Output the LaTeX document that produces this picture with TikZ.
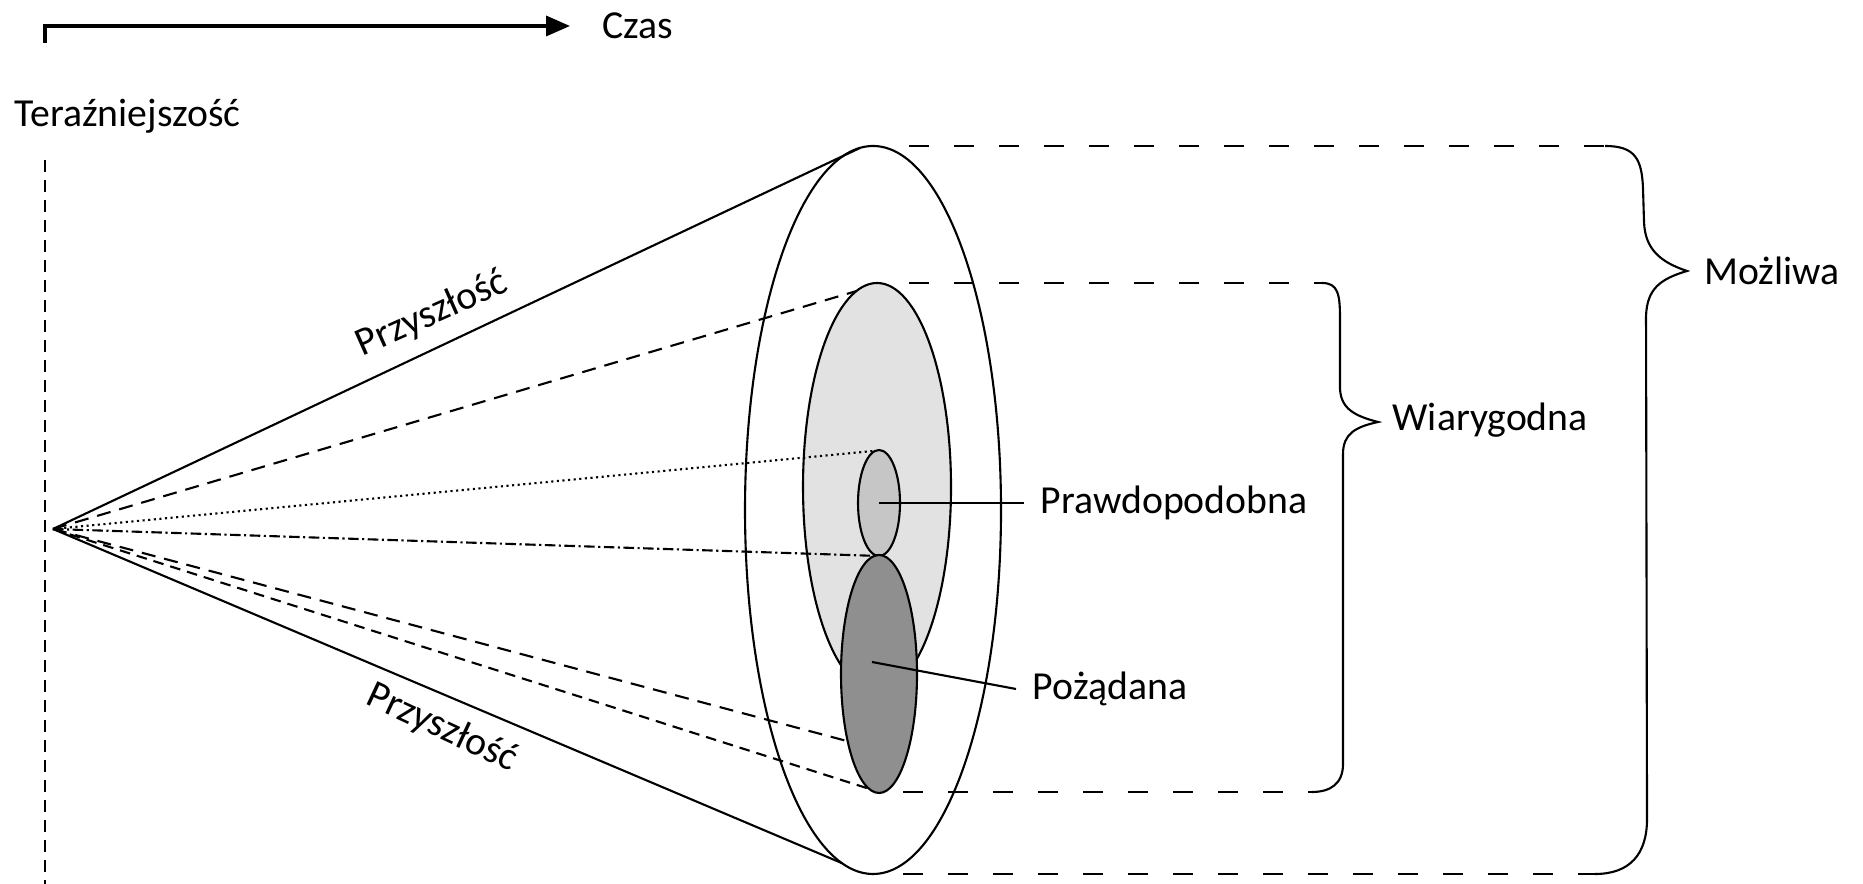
\documentclass[tikz,border=0pt]{standalone}
\usepackage{fontspec}
\setmainfont{Carlito}
\usetikzlibrary{shapes.geometric,arrows.meta}
\definecolor{lightgr}{HTML}{E2E2E2}
\definecolor{midgr}{HTML}{C6C6C6}
\definecolor{darkgr}{HTML}{8F8F8F}
\tikzset{
  oval/.style={draw,ellipse,inner sep=0pt,outer sep=0pt},
  txt/.style={font=\fontsize{11.3}{13}\selectfont,inner sep=1pt},
  lbl/.style={txt,anchor=west,inner xsep=4.5pt},
  hdash/.style={dash pattern=on 0.2cm off 0.25cm},
  cdash/.style={dash pattern=on 0.14cm off 0.09cm}
}
\begin{document}
\begin{tikzpicture}[line width=0.6pt]
\useasboundingbox (0,0) rectangle (18.63,8.84);
% os czasu
\coordinate (t0) at (0.45,8.41); \coordinate (t1) at (5.70,8.58);
\node[txt,anchor=west] (czas) at (5.98,8.58) {Czas};
\draw[line width=1pt,-{Triangle[length=0.24cm,width=0.2cm]}] (t0) |- (t1);
\node[txt,anchor=west] (teraz) at (0.1,7.68) {Teraźniejszość};
\coordinate (v0) at (0.45,7.24); \coordinate (v1) at (0.45,0);
\draw[dash pattern=on 0.12cm off 0.08cm] (v0) -- (v1);

% elipsy
\node[oval,fill=white,minimum width=2.56cm,minimum height=7.28cm] (big) at (8.73,3.74) {};
\node[oval,fill=lightgr,minimum width=1.48cm,minimum height=4.08cm] (med) at (8.77,3.97) {};
\node[oval,fill=midgr,minimum width=0.42cm,minimum height=1.06cm] (small) at (8.79,3.81) {};
\node[oval,fill=darkgr,minimum width=0.76cm,minimum height=2.38cm] (dark) at (8.79,2.10) {};

% stozek
\coordinate (apex) at (0.53,3.55);
\draw (apex) -- (big.92); \draw (apex) -- (big.265);
\draw[cdash] (apex) -- (med.96);
\draw[densely dotted] (apex) -- (small.94);
\draw[densely dashdotted] (apex) -- (small.south);
\draw[cdash] (apex) -- (dark.245);
\draw[densely dashed] (apex) -- (dark.265);

\node[txt,rotate=24] (przy1) at (4.32,5.70) {Przyszłość};
\node[txt,rotate=-25] (przy2) at (4.42,1.56) {Przyszłość};

% etykiety
\coordinate (pin) at (8.72,2.22);
\node[lbl] (prawd) at (10.24,3.81) {Prawdopodobna};
\node[lbl] (pozad) at (10.16,1.95) {Pożądana};
\draw (small.center) -- (prawd.west);
\draw (pin) -- (pozad.west);

% linie poziome i klamry
\coordinate (a0) at (9.09,7.38); \coordinate (a1) at (16.05,7.38);
\coordinate (b0) at (9.09,6.01); \coordinate (b1) at (13.22,6.01);
\coordinate (c0) at (9.03,0.92); \coordinate (c1) at (13.12,0.92);
\coordinate (d0) at (9.03,0.10); \coordinate (d1) at (15.95,0.10);
\draw[hdash] (a0) -- (a1); \draw[hdash] (b0) -- (b1);
\draw[hdash] (c0) -- (c1); \draw[hdash] (d0) -- (d1);

\draw (b1) .. controls (13.38,6.01) and (13.40,5.9) .. (13.40,5.65) -- (13.40,4.95)
  .. controls (13.41,4.75) and (13.55,4.68) .. (13.78,4.62)
  .. controls (13.55,4.57) and (13.43,4.5) .. (13.43,4.3) -- (13.43,1.2)
  .. controls (13.43,1.0) and (13.3,0.92) .. (c1);
\node[txt,anchor=west] (wiar) at (13.88,4.64) {Wiarygodna};

\draw (a1) .. controls (16.35,7.38) and (16.42,7.25) .. (16.43,6.95) -- (16.44,6.62)
  .. controls (16.45,6.35) and (16.6,6.22) .. (16.87,6.13)
  .. controls (16.6,6.05) and (16.47,5.95) .. (16.46,5.68) -- (16.47,0.65)
  .. controls (16.47,0.3) and (16.3,0.1) .. (d1);
\node[txt,anchor=west] (mozl) at (17.0,6.13) {Możliwa};
\end{tikzpicture}
\end{document}
